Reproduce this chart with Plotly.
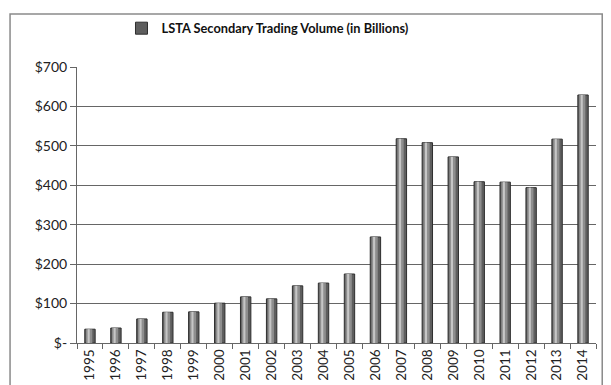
import plotly.graph_objects as go

years = [str(y) for y in range(1995, 2015)]
volume = [35, 38, 61, 78, 79, 101, 117, 112, 145, 152, 175, 269, 518, 508, 472, 409, 408, 394, 517, 629]
y_ticks = [0, 100, 200, 300, 400, 500, 600, 700]
y_labels = ["$-", "$100", "$200", "$300", "$400", "$500", "$600", "$700"]

fig = go.Figure()
fig.add_trace(go.Bar(x=years, y=volume, width=0.4, name="LSTA Secondary Trading Volume (in Billions)",
                     marker=dict(color="#5e5e5e", line=dict(color="#2e2e2e", width=1)),
                     hoverinfo="x+y"))
fig.add_trace(go.Bar(x=years, y=volume, width=0.24, offset=-0.15, showlegend=False,
                     marker=dict(color="#8e8e8e", line=dict(width=0)), hoverinfo="skip"))
fig.add_trace(go.Bar(x=years, y=volume, width=0.08, offset=-0.09, showlegend=False,
                     marker=dict(color="#c6c6c6", line=dict(width=0)), hoverinfo="skip"))

fig.update_layout(
    width=611, height=385,
    margin=dict(l=77, r=15, t=67, b=42, autoexpand=False),
    paper_bgcolor="white", plot_bgcolor="white",
    barmode="overlay",
    font=dict(family="Lato, 'Open Sans', sans-serif", color="#222"),
    showlegend=True,
    legend=dict(orientation="h", x=0.368, y=1.14, xanchor="center", yanchor="middle",
                font=dict(size=12.8, color="#111", family="Lato, sans-serif", weight="bold"),
                itemwidth=30, bgcolor="rgba(0,0,0,0)"),
    xaxis=dict(type="category", range=[-0.5, 19.5], tickangle=-90, tickfont=dict(size=13.5),
               showline=True, linecolor="#666", linewidth=1, ticks="outside", ticklen=5,
               tickcolor="#666", tickson="boundaries", showgrid=False, fixedrange=True,
               automargin=False),
    yaxis=dict(range=[0, 700], tickvals=y_ticks, ticktext=y_labels, tickfont=dict(size=14),
               showline=True, linecolor="#666", linewidth=1, ticks="outside", ticklen=6,
               tickcolor="#666", showgrid=True, gridcolor="#666", gridwidth=1,
               zeroline=False, fixedrange=True, automargin=False),
    shapes=[dict(type="rect", xref="paper", yref="paper", x0=-0.129, x1=1.012, y0=-0.2, y1=1.192,
                 line=dict(color="#8a8a8a", width=1.5), fillcolor="rgba(0,0,0,0)", layer="below")],
)

fig.write_html("out.html")
